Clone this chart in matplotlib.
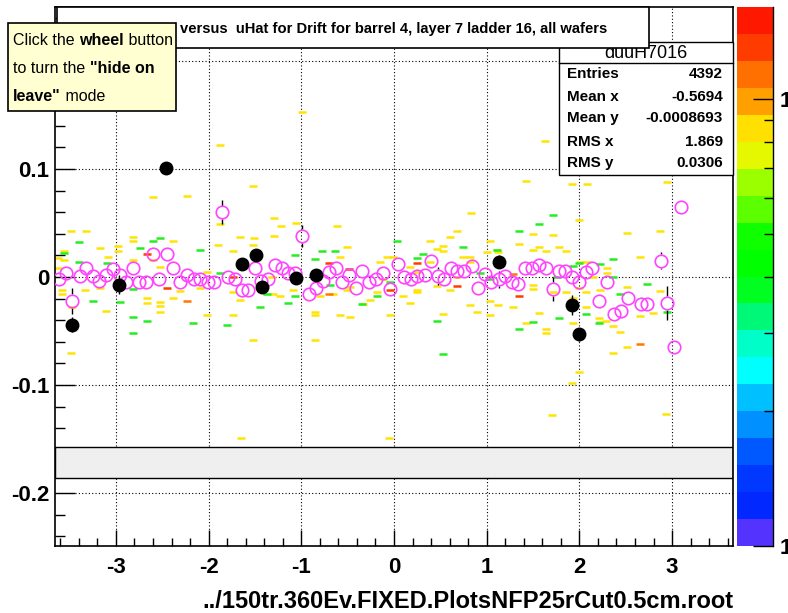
import matplotlib
matplotlib.use("Agg")
import matplotlib.pyplot as plt
import numpy as np
from matplotlib.patches import Rectangle
from matplotlib.lines import Line2D
from matplotlib.colors import ListedColormap
from matplotlib.ticker import MultipleLocator, NullFormatter

plt.rcParams['font.family'] = ['Liberation Sans', 'DejaVu Sans']
plt.rcParams['axes.unicode_minus'] = False

# ---- data ----
# 2D histogram cells (x, y), grouped by their colour
yellow_cells = [
    (-3.48, 0.043), (-3.32, 0.043), (-3.56, 0.024), (-3.56, 0.016), (-3.17, 0.027),
    (-3.09, 0.019), (-2.98, 0.029), (-2.98, 0.024), (-2.82, 0.037), (-2.82, 0.033),
    (-2.82, 0.016), (-2.60, 0.074), (-2.23, 0.075), (-2.38, 0.033), (-2.52, 0.009),
    (-2.60, 0.016), (-3.17, -0.010), (-3.11, -0.031), (-2.66, -0.019), (-2.66, -0.024),
    (-2.52, -0.023), (-2.52, -0.027), (-2.52, -0.032), (-2.38, -0.019), (-2.31, -0.013),
    (-2.09, -0.010), (-2.02, 0.005), (-2.02, -0.035), (-3.48, -0.070), (-3.58, -0.012),
    (-3.58, -0.016), (-3.47, -0.028), (-3.33, -0.012), (-1.88, 0.049), (-1.90, 0.030),
    (-1.66, 0.037), (-1.74, 0.024), (-1.52, 0.084), (-1.29, 0.055), (-1.22, 0.047),
    (-1.06, 0.050), (-1.29, 0.038), (-1.51, 0.036), (-1.52, 0.030), (-1.32, 0.000),
    (-1.09, -0.002), (-0.61, 0.047), (-0.51, 0.028), (-0.58, 0.019), (-0.85, -0.032),
    (-0.85, -0.035), (-0.85, -0.058), (-1.52, -0.058), (-1.74, -0.035), (-1.74, -0.014),
    (-1.66, -0.021), (-1.31, -0.016), (-1.23, -0.018), (-1.09, -0.012), (-0.80, -0.018),
    (-0.66, -0.016), (-0.51, -0.012), (-0.58, -0.035), (-0.47, -0.037), (-0.26, -0.021),
    (-0.33, -0.025), (-0.18, -0.014), (-0.04, -0.035), (-0.01, 0.019), (-0.12, -0.002),
    (-0.47, -0.009), (-0.99, 0.153), (-1.88, 0.122), (1.63, 0.126), (1.92, 0.086),
    (2.08, 0.086), (2.94, 0.088), (1.42, 0.089), (2.00, -0.088), (1.92, -0.098),
    (1.70, -0.128), (2.93, -0.127), (-1.65, -0.149), (-0.05, -0.149), (0.83, 0.059),
    (0.68, 0.043), (0.60, 0.037), (0.39, 0.033), (0.53, 0.029), (0.53, 0.024),
    (0.46, 0.026), (1.11, 0.025), (1.12, 0.023), (1.04, 0.033), (1.50, 0.040),
    (1.72, 0.039), (1.35, 0.031), (1.50, 0.025), (1.56, 0.028), (1.64, 0.024),
    (1.78, 0.028), (1.86, 0.024), (2.00, 0.053), (2.51, 0.041), (2.87, 0.043),
    (2.65, 0.019), (2.01, 0.014), (2.08, 0.014), (2.30, 0.008), (2.30, 0.004),
    (-0.15, 0.014), (-0.08, 0.019), (0.17, 0.009), (0.25, 0.005), (0.39, 0.014),
    (0.82, 0.014), (0.74, 0.019), (0.82, 0.019), (1.00, 0.023), (0.17, -0.024),
    (0.10, -0.018), (0.25, -0.012), (0.25, -0.014), (0.46, -0.008), (0.53, -0.034),
    (0.60, -0.012), (0.68, 0.000), (0.82, -0.026), (0.90, -0.032), (1.04, -0.035),
    (1.04, -0.022), (1.12, -0.026), (1.28, -0.028), (1.42, -0.043), (1.50, -0.007),
    (1.50, -0.011), (1.56, -0.033), (1.64, -0.048), (1.64, -0.052), (1.72, -0.014),
    (1.86, -0.014), (1.93, -0.043), (1.93, -0.019), (2.00, -0.010), (2.07, -0.014),
    (2.07, -0.028), (2.15, 0.000), (2.21, -0.038), (2.29, -0.041), (2.36, -0.045),
    (2.36, -0.070), (2.44, -0.051), (2.51, -0.065), (2.22, -0.012), (2.51, -0.009),
    (2.65, -0.036), (2.79, -0.033), (2.87, -0.013), (2.22, -0.042), (-3.62, 0.018),
    (-3.62, 0.008),
]
green_cells = [
    (-3.40, 0.032), (-3.56, 0.022), (-3.40, 0.014), (-3.25, -0.022), (-3.10, 0.013),
    (-2.96, -0.023), (-2.82, -0.011), (-2.74, 0.027), (-2.82, -0.037), (-2.82, -0.052),
    (-2.66, -0.041), (-2.60, 0.033), (-2.52, 0.036), (-2.09, 0.025), (-2.17, -0.043),
    (-1.80, -0.044), (-1.88, 0.004), (-1.45, -0.028), (-1.37, -0.016), (-1.14, -0.024),
    (-1.07, -0.018), (-1.07, 0.020), (-0.85, 0.017), (-0.78, 0.024), (-0.64, 0.024),
    (-0.35, -0.025), (-0.18, -0.018), (0.03, 0.033), (-0.69, -0.007), (1.72, 0.057),
    (1.56, 0.049), (1.35, 0.043), (0.31, 0.021), (0.25, 0.018), (0.74, 0.028),
    (1.11, 0.025), (2.36, 0.017), (2.73, -0.006), (2.44, -0.016), (2.07, -0.034),
    (2.21, -0.043), (1.50, -0.042), (1.35, -0.048), (1.78, -0.038), (0.46, -0.041),
    (0.53, -0.071), (-0.04, -0.005), (1.76, 0.000), (2.00, 0.013), (2.36, 0.000),
    (0.93, 0.004), (1.04, -0.002), (1.93, 0.010), (2.94, -0.032), (2.22, 0.012),
]
red_cells = [
    (-2.45, -0.010), (-2.66, 0.021), (-1.74, 0.000), (-0.70, 0.013), (-0.49, 0.007),
    (-0.04, -0.012), (0.25, 0.013), (0.68, -0.008), (1.35, -0.018),
]
orange_cells = [(-2.23, -0.022), (-0.70, -0.016), (2.65, -0.062), (1.28, 0.003)]

# profile shown with open magenta circles
prof_x = [-3.61, -3.54, -3.47, -3.39, -3.32, -3.25, -3.18, -3.11, -3.03, -2.96,
          -2.89, -2.82, -2.75, -2.68, -2.60, -2.53, -2.45, -2.38, -2.31, -2.23,
          -2.16, -2.09, -2.01, -1.94, -1.86, -1.79, -1.72, -1.64, -1.57, -1.50,
          -1.43, -1.36, -1.28, -1.21, -1.14, -1.07, -0.99, -0.92, -0.84, -0.77,
          -0.70, -0.63, -0.56, -0.49, -0.41, -0.34, -0.27, -0.19, -0.12, -0.04,
          0.04, 0.11, 0.18, 0.25, 0.33, 0.40, 0.47, 0.54, 0.61, 0.68,
          0.76, 0.84, 0.91, 0.98, 1.05, 1.13, 1.20, 1.27, 1.34, 1.41,
          1.49, 1.56, 1.64, 1.71, 1.78, 1.85, 1.92, 2.00, 2.07, 2.14,
          2.21, 2.30, 2.37, 2.45, 2.52, 2.66, 2.73, 2.88, 2.95, 3.02, 3.10]
prof_y = [-0.002, 0.004, -0.022, 0.001, 0.008, 0.001, -0.004, 0.002, 0.007, 0.002,
          -0.005, 0.008, -0.005, -0.005, 0.021, -0.002, 0.021, 0.008, -0.005, 0.002,
          -0.002, -0.002, -0.005, -0.005, 0.060, 0.000, -0.002, -0.012, -0.012, 0.008,
          -0.004, -0.002, 0.011, 0.008, 0.004, 0.004, 0.038, -0.016, -0.010, -0.004,
          0.005, 0.008, -0.005, 0.002, -0.010, 0.006, -0.005, -0.002, 0.004, -0.011,
          0.012, 0.000, -0.002, 0.001, 0.002, 0.015, 0.001, -0.002, 0.008, 0.006,
          0.006, 0.010, -0.010, 0.003, -0.005, -0.002, 0.001, -0.005, -0.006, 0.008,
          0.008, 0.011, 0.008, -0.011, 0.006, 0.006, 0.000, -0.005, 0.005, 0.008,
          -0.022, -0.005, -0.034, -0.031, -0.019, -0.025, -0.025, 0.015, -0.024, -0.065, 0.065]
prof_err = [0.003, 0.003, 0.012, 0.003, 0.003, 0.003, 0.003, 0.003, 0.003, 0.003,
            0.003, 0.003, 0.003, 0.003, 0.003, 0.003, 0.003, 0.003, 0.003, 0.003,
            0.003, 0.003, 0.003, 0.003, 0.011, 0.003, 0.003, 0.003, 0.003, 0.003,
            0.003, 0.003, 0.003, 0.003, 0.003, 0.003, 0.010, 0.003, 0.003, 0.003,
            0.003, 0.003, 0.003, 0.003, 0.003, 0.003, 0.003, 0.003, 0.003, 0.003,
            0.003, 0.003, 0.003, 0.003, 0.003, 0.003, 0.008, 0.003, 0.003, 0.003,
            0.003, 0.003, 0.003, 0.003, 0.003, 0.008, 0.003, 0.003, 0.003, 0.003,
            0.003, 0.003, 0.003, 0.011, 0.003, 0.003, 0.003, 0.003, 0.003, 0.003,
            0.003, 0.003, 0.003, 0.003, 0.003, 0.003, 0.003, 0.008, 0.016, 0.003, 0.003]

# profile shown with filled black circles
blk_x = [-3.47, -2.97, -2.46, -1.64, -1.49, -1.42, -1.06, -0.84, 1.13, 1.92, 2.00]
blk_y = [-0.044, -0.007, 0.101, 0.012, 0.020, -0.009, -0.001, 0.002, 0.014, -0.026, -0.053]
blk_err = [0.007, 0.009, 0.004, 0.004, 0.004, 0.005, 0.004, 0.003, 0.006, 0.009, 0.006]

xticks = [-3, -2, -1, 0, 1, 2, 3]
yticks = [-0.2, -0.1, 0, 0.1, 0.2]
ytick_labels = ['-0.2', '-0.1', '0', '0.1', '0.2']

stat_names = ['Entries', 'Mean x', 'Mean y', 'RMS x', 'RMS y']
stat_values = ['4392', '-0.5694', '-0.0008693', '1.869', '0.0306']

palette = ['#5533ff', '#0028ff', '#0038ff', '#0058ff', '#0090ff', '#00c0ff', '#00ffff',
           '#00ffc8', '#00f878', '#00ff20', '#00ff00', '#10ff00', '#5cff00', '#9cff00',
           '#e6f800', '#ffe000', '#ffa000', '#ff7000', '#ff3c00', '#ff1800']
z_max = 16.07

# ---- figure ----
W, H = 788, 613
fig = plt.figure(figsize=(W / 100, H / 100), dpi=100)
ax = fig.add_axes([55 / W, 1 - 546 / H, (733 - 55) / W, (546 - 7) / H])
ax.set_xlim(-3.657, 3.657)
ax.set_ylim(-0.249, 0.25)

ax.set_axisbelow(True)
ax.grid(True, which='major', color='black', linestyle=(0, (1, 2)), linewidth=0.8)
ax.axhspan(-0.1864, -0.1577, facecolor='#efefef', edgecolor='black', linewidth=1.0, zorder=1.5)

for cells, col in [(yellow_cells, '#ffe400'), (green_cells, '#22ee22'),
                   (orange_cells, '#ff7800'), (red_cells, '#ff3c00')]:
    cx, cy = zip(*cells)
    ax.plot(cx, cy, ls='none', marker='_', ms=5.5, mew=1.8, color=col, zorder=2)

# open circles: the error bar is only drawn outside the marker, as ROOT does
ring = 0.0062   # marker radius in y units
for x, y, e in zip(prof_x, prof_y, prof_err):
    if e > ring:
        ax.vlines([x, x], [y + ring, y - e], [y + e, y - ring], color='black', lw=1.0, zorder=3)
ax.plot(prof_x, prof_y, ls='none', marker='o', ms=9, mfc='none', mec='#ff44ff',
        mew=1.2, zorder=3)
ax.errorbar(blk_x, blk_y, yerr=blk_err, fmt='o', ms=9, color='black',
            ecolor='black', elinewidth=1.0, capsize=0, zorder=4)

for s in ax.spines.values():
    s.set_linewidth(1.2)
ax.set_xticks(xticks)
ax.set_xticklabels([str(t) for t in xticks])
ax.set_yticks(yticks)
ax.set_yticklabels(ytick_labels)
ax.xaxis.set_minor_locator(MultipleLocator(0.2))
ax.yaxis.set_minor_locator(MultipleLocator(0.02))
ax.tick_params(which='both', direction='in', top=False, right=False, width=1.0)
ax.tick_params(axis='x', which='major', length=11.5, pad=8)
ax.tick_params(axis='x', which='minor', length=6)
ax.tick_params(axis='y', which='major', length=14.5, pad=4)
ax.tick_params(axis='y', which='minor', length=7)
for lab in ax.get_xticklabels() + ax.get_yticklabels():
    lab.set_fontweight('bold')
    lab.set_fontsize(16)

# colour scale
cax = fig.add_axes([737 / W, 1 - 546 / H, 36 / W, 539 / H])
edges = np.logspace(0, np.log10(z_max), len(palette) + 1)
cax.pcolormesh([0, 1], edges, np.arange(len(palette)).reshape(-1, 1),
               cmap=ListedColormap(palette), vmin=-0.5, vmax=len(palette) - 0.5)
cax.set_yscale('log')
cax.set_ylim(1, z_max)
cax.set_xlim(0, 1)
for side in ['left', 'top', 'bottom']:
    cax.spines[side].set_visible(False)
cax.spines['right'].set_linewidth(1.0)
cax.set_xticks([])
cax.yaxis.tick_right()
cax.set_yticks([1, 10])
cax.set_yticklabels(['1', '10'])
cax.yaxis.set_minor_formatter(NullFormatter())
cax.tick_params(axis='y', which='both', direction='in', width=1.0, pad=5)
cax.tick_params(axis='y', which='major', length=14.5)
cax.tick_params(axis='y', which='minor', length=6.5)
for lab in cax.get_yticklabels():
    lab.set_fontweight('bold')
    lab.set_fontsize(16)


def fx(x):
    return x / W


def fy(y):
    return 1 - y / H


def box(x0, y0, x1, y1, **kw):
    r = Rectangle((fx(x0), fy(y1)), (x1 - x0) / W, (y1 - y0) / H,
                  transform=fig.transFigure, **kw)
    fig.add_artist(r)


fig.text(fx(733), fy(608), '../150tr.360Ev.FIXED.PlotsNFP25rCut0.5cm.root',
         ha='right', va='baseline', fontsize=17, fontweight='bold')

# statistics box
box(559, 42, 733, 175, facecolor='white', edgecolor='black', linewidth=1.0, zorder=10)
fig.add_artist(Line2D([fx(559), fx(733)], [fy(62.7), fy(62.7)], color='black',
                      linewidth=1.0, transform=fig.transFigure, zorder=10))
fig.text(fx(646), fy(53), 'duuH7016', ha='center', va='center', fontsize=13, zorder=11)
row_y = [74, 96.7, 118.3, 141.7, 163.3]
for name, val, yy in zip(stat_names, stat_values, row_y):
    fig.text(fx(567), fy(yy), name, ha='left', va='center', fontsize=11,
             fontweight='bold', zorder=11)
    fig.text(fx(723), fy(yy), val, ha='right', va='center', fontsize=11,
             fontweight='bold', zorder=11)

# title box
box(57, 7, 649, 48, facecolor='white', edgecolor='black', linewidth=1.2, zorder=12)
fig.text(fx(180), fy(29), 'versus  uHat for Drift for barrel 4, layer 7 ladder 16, all wafers',
         ha='left', va='center', fontsize=10.6, fontweight='bold', zorder=13)

# tooltip
box(8, 23, 176, 111, facecolor='#ffffd2', edgecolor='black', linewidth=1.2, zorder=14)
renderer = fig.canvas.get_renderer()
tip_lines = [
    ([('Click the ', False), ('wheel', True), (' button', False)], 45),
    ([('to turn the ', False), ('"hide on', True)], 73),
    ([('leave"', True), (' mode', False)], 101),
]
for parts, base in tip_lines:
    x = fx(13)
    for s, bold in parts:
        t = fig.text(x, fy(base), s, ha='left', va='baseline', fontsize=11.5,
                     fontweight='bold' if bold else 'normal', zorder=15)
        x = t.get_window_extent(renderer).x1 / fig.bbox.width

fig.savefig('out.png', dpi=100)
